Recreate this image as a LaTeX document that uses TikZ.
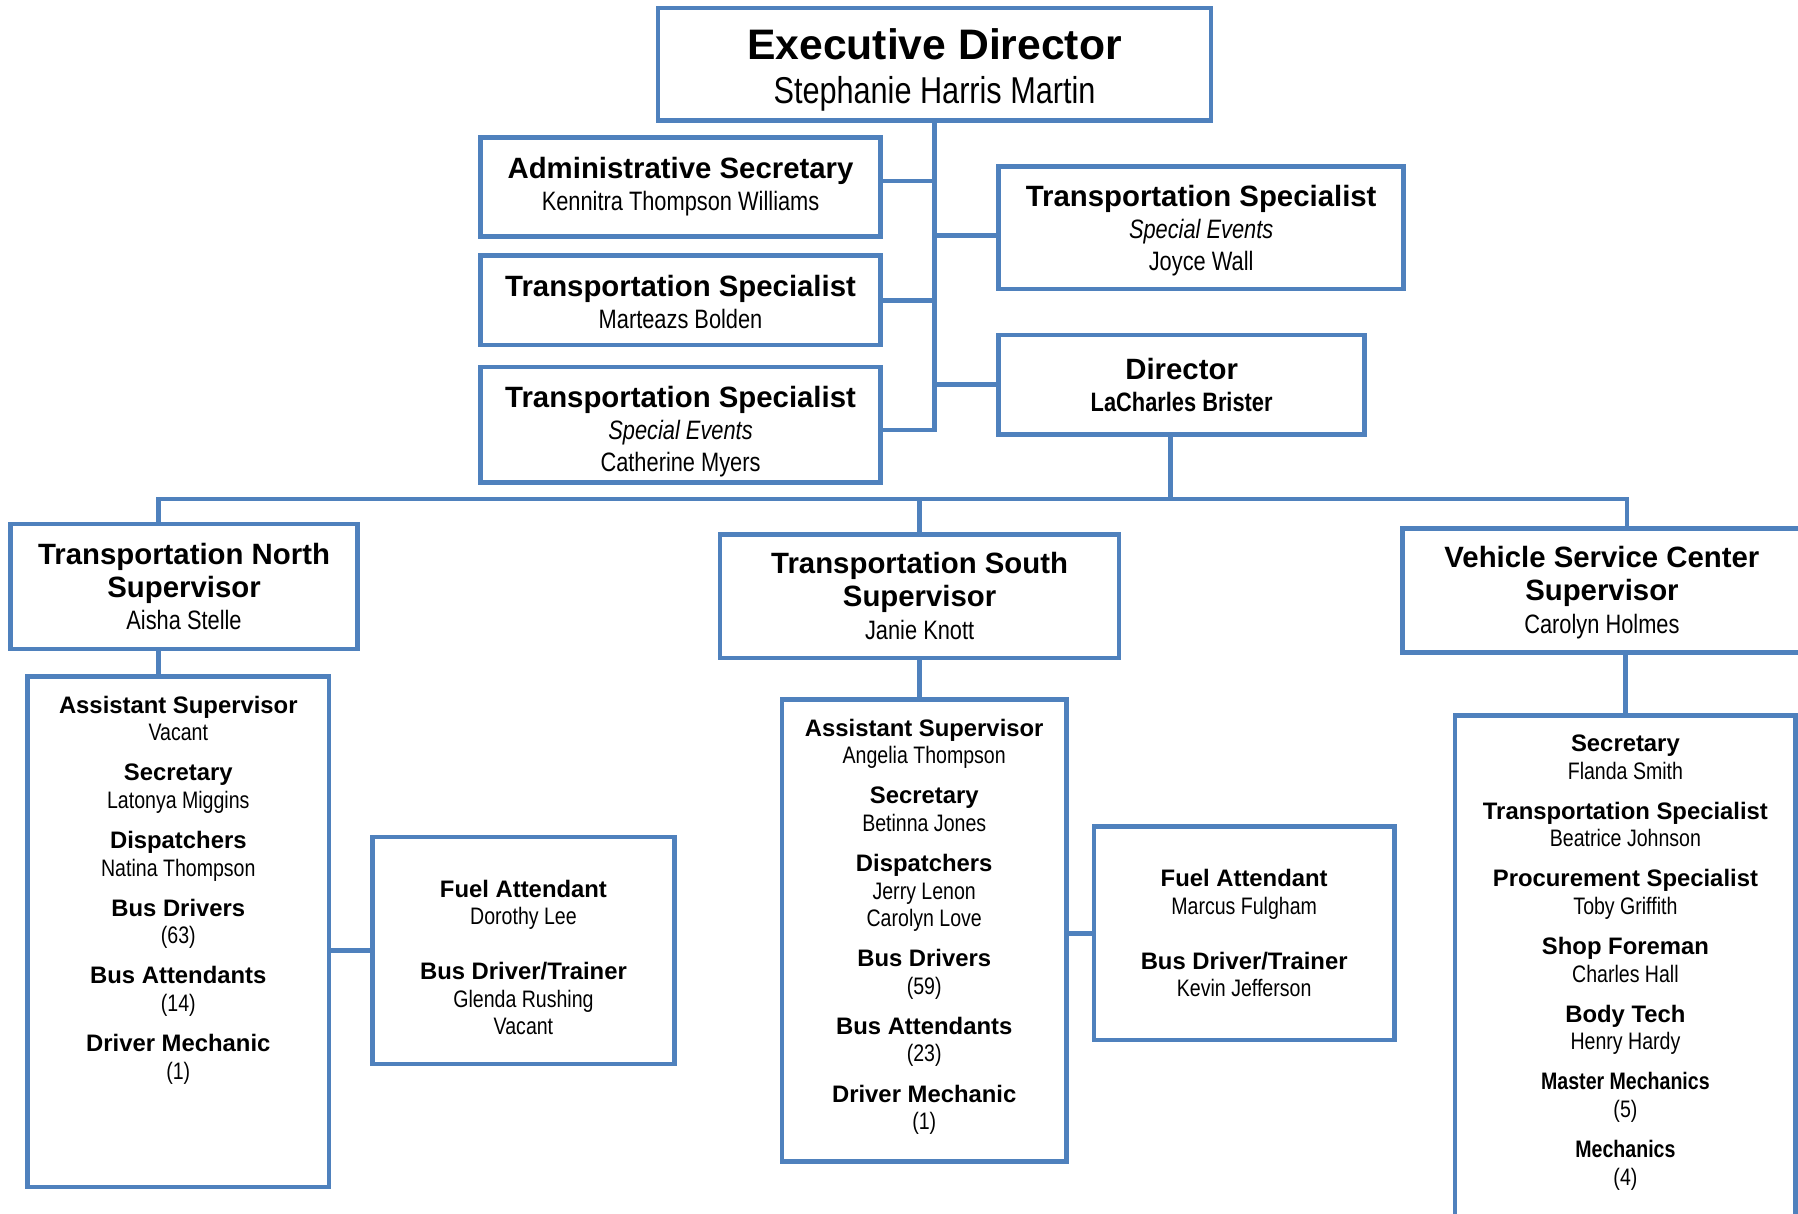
\documentclass[tikz,border=0pt]{standalone}
\usepackage{fontspec}
\setmainfont{Liberation Sans}
\newfontfamily\narrowfont[FakeStretch=0.82]{Liberation Sans}
\usepackage{tikz}
\definecolor{orgblue}{RGB}{79,129,189}
\newcommand{\hd}[1]   {{\fontsize{12.8}{14}\selectfont\normalfont\bfseries #1}}
\newcommand{\rl}[2]   {{\normalfont\bfseries #1}\\#2}
\newcommand{\rln}[2]  {{\bfseries #1}\\#2}
\newcommand{\evt}     {{\itshape Special Events}}
\newcommand{\dn}[1]   {\rule{0pt}{#1}}
\newcommand{\staff}[3]{\parbox[c][#2][t]{#1}{\centering\vspace*{8.5pt}#3}}

\begin{document}
\begin{tikzpicture}[x=0.5pt, y=-0.5pt,
   unit/.style={draw=orgblue, line width=2pt, fill=white, align=center, inner sep=0pt},
   link/.style={draw=orgblue, line width=2pt},
   wh/.style 2 args={minimum width=#1*0.5pt, minimum height=#2*0.5pt},
   topfont/.style={font=\fontsize{11.6}{14}\selectfont\narrowfont},
   supfont/.style={font=\fontsize{11.6}{14.3}\selectfont\narrowfont},
   listfont/.style={font=\fontsize{10.4}{12}\selectfont\narrowfont}]
   \path[use as bounding box, clip] (0,0) rectangle (1568,1058);
 %
   \node (exec)  at ( 815,  56)   [unit, wh={482}{98}, font=\fontsize{16.3}{19.5}\selectfont\narrowfont]
      {\dn{18.5pt}{\fontsize{18.6}{19.5}\selectfont\normalfont\bfseries Executive Director}\\Stephanie Harris Martin};
   \node (admin) at ( 593.5, 163) [unit, wh={349}{86},  topfont] {\hd{Administrative Secretary}\\Kennitra Thompson Williams};
   \node (tsb)   at ( 593.5, 262) [unit, wh={349}{78},  topfont] {\dn{11pt}\hd{Transportation Specialist}\\Marteazs Bolden};
   \node (tsm)   at ( 593.5, 370.5) [unit, wh={349}{101}, topfont] {\dn{15pt}\hd{Transportation Specialist}\\\evt\\Catherine Myers};
   \node (tsw)   at (1047.5, 198.5) [unit, wh={353}{107}, topfont] {\dn{12pt}\hd{Transportation Specialist}\\\evt\\Joyce Wall};
   \node (dir)   at (1030.5, 335.5) [unit, wh={319}{87},  topfont] {\hd{Director}\\{\bfseries LaCharles Brister}};
 %
   \node (north) at ( 160.5, 511.5) [unit, wh={303}{109}, supfont] {\hd{Transportation North}\\\hd{Supervisor}\\Aisha Stelle};
   \node (south) at ( 802,   520)   [unit, wh={348}{108}, supfont] {\hd{Transportation South}\\\hd{Supervisor}\\Janie Knott};
   \node (vsc)   at (1397,   515)   [unit, wh={348}{108}, supfont] {\dn{11pt}\hd{Vehicle Service Center}\\\hd{Supervisor}\\Carolyn Holmes};
 %
   \node (nlist) at ( 155.5, 812.5) [unit, wh={263}{445}, listfont] {\staff{131.5pt}{222.5pt}{%
      \rl{Assistant Supervisor}{Vacant}\\[5.5pt]
      \rl{Secretary}{Latonya Miggins}\\[5.5pt]
      \rl{Dispatchers}{Natina Thompson}\\[5.5pt]
      \rl{Bus Drivers}{(63)}\\[5.5pt]
      \rl{Bus Attendants}{(14)}\\[5.5pt]
      \rl{Driver Mechanic}{(1)}}};
   \node (nside) at ( 456.5, 829)   [unit, wh={263}{198}, listfont]
      {\dn{13.5pt}\rl{Fuel Attendant}{Dorothy Lee}\\[12pt]\rl{Bus Driver/Trainer}{Glenda Rushing}\\Vacant};
   \node (slist) at ( 806,   811.5) [unit, wh={248}{403}, listfont] {\staff{124pt}{201.5pt}{%
      \rl{Assistant Supervisor}{Angelia Thompson}\\[5.5pt]
      \rl{Secretary}{Betinna Jones}\\[5.5pt]
      \rl{Dispatchers}{Jerry Lenon}\\Carolyn Love\\[5.5pt]
      \rl{Bus Drivers}{(59)}\\[5.5pt]
      \rl{Bus Attendants}{(23)}\\[5.5pt]
      \rl{Driver Mechanic}{(1)}}};
   \node (sside) at (1085,   814)   [unit, wh={262}{186}, listfont]
      {\rl{Fuel Attendant}{Marcus Fulgham}\\[12pt]\rl{Bus Driver/Trainer}{Kevin Jefferson}};
   \node (vlist) at (1417.5, 852)   [unit, wh={297}{456}, listfont] {\staff{148.5pt}{228pt}{%
      \rl{Secretary}{Flanda Smith}\\[5.5pt]
      \rl{Transportation Specialist}{Beatrice Johnson}\\[5.5pt]
      \rl{Procurement Specialist}{Toby Griffith}\\[5.5pt]
      \rl{Shop Foreman}{Charles Hall}\\[5.5pt]
      \rl{Body Tech}{Henry Hardy}\\[5.5pt]
      \rln{Master Mechanics}{(5)}\\[5.5pt]
      \rln{Mechanics}{(4)}}};
 %
   \coordinate (hub)  at (1021, 435);
   \coordinate (nbus) at ( 138, 435);
   \coordinate (vbus) at (1419, 435);
 %
   \draw[link] (exec.south) |- ([yshift=-2.25pt]tsm.east);
   \draw[link] ([yshift=2.5pt]admin.east) -- ([yshift=2.5pt]admin.east -| exec.south);
   \draw[link] (tsb.east)   -- (tsb.east -| exec.south);
   \draw[link] ([yshift=-3.5pt]tsw.west) -- ([yshift=-3.5pt]tsw.west -| exec.south);
   \draw[link] (dir.west)   -- (dir.west -| exec.south);
   \draw[link] (hub |- dir.south) -- (hub);
   \draw[link] (nbus |- north.north) -- (nbus) -- (vbus) -- (vbus |- vsc.north);
   \draw[link] (south.north) -- (south.north |- nbus);
   \draw[link] (nbus |- north.south) -- (nbus |- nlist.north);
   \draw[link] (south.south) -- (south.south |- slist.north);
   \draw[link] (vlist.north |- vsc.south) -- (vlist.north);
   \draw[link] (nside.west -| nlist.east) -- (nside.west);
   \draw[link] (sside.west -| slist.east) -- (sside.west);
\end{tikzpicture}
\end{document}
